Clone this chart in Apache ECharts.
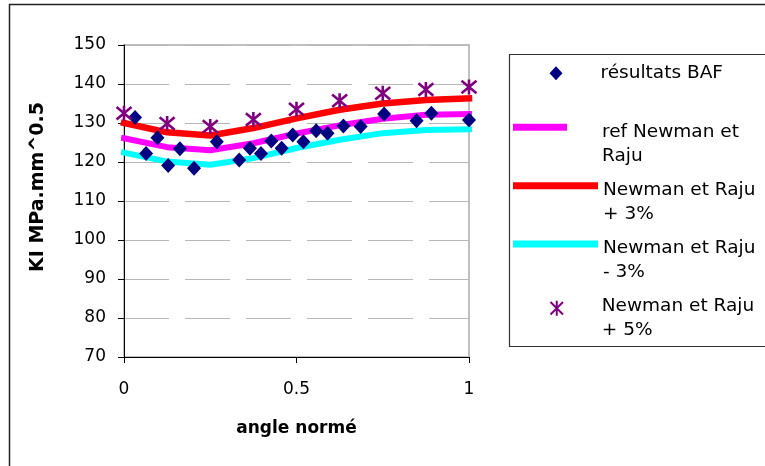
<!DOCTYPE html>
<html>
<head>
<meta charset="utf-8">
<script src="https://cdn.jsdelivr.net/npm/echarts@6/dist/echarts.min.js"></script>
<style>html,body{margin:0;padding:0;background:#fff}#c{width:765px;height:466px}</style>
</head>
<body>
<div id="c"></div>
<script>
// ---- data ----
const bafX = [0.032, 0.064, 0.097, 0.128, 0.162, 0.203, 0.269, 0.334, 0.365, 0.397, 0.427, 0.457, 0.489, 0.520, 0.557, 0.590, 0.636, 0.686, 0.754, 0.848, 0.891, 1.0];
const bafY = [131.4, 122.2, 126.2, 119.1, 123.4, 118.4, 125.2, 120.5, 123.5, 122.2, 125.4, 123.5, 126.9, 125.2, 128.0, 127.4, 129.2, 129.1, 132.3, 130.6, 132.5, 130.8];
const lineX = [0, 0.125, 0.25, 0.375, 0.5, 0.625, 0.75, 0.875, 1];
const refY = [126.1, 123.8, 123.0, 124.8, 127.3, 129.4, 131.1, 132.1, 132.3];
const plus3Y = [130.0, 127.6, 126.8, 128.7, 131.2, 133.4, 135.0, 135.9, 136.3];
const minus3Y = [122.4, 120.1, 119.3, 121.0, 123.6, 125.7, 127.4, 128.2, 128.4];
const plus5Y = [132.5, 129.9, 129.1, 130.9, 133.5, 135.7, 137.6, 138.6, 139.2];
const seriesNames = ['résultats BAF', 'ref Newman et Raju', 'Newman et Raju + 3%', 'Newman et Raju - 3%', 'Newman et Raju + 5%'];
const legendLines = [['résultats BAF'], ['ref Newman et', 'Raju'], ['Newman et Raju', '+ 3%'], ['Newman et Raju', '- 3%'], ['Newman et Raju', '+ 5%']];
const xTickValues = [0, 0.5, 1];
const yTickValues = [70, 80, 90, 100, 110, 120, 130, 140, 150];
const xTitle = 'angle normé';
const yTitle = 'KI MPa.mm^0.5';

const pair = (xs, ys) => xs.map((x, i) => [x, ys[i]]);
const FONT = 'DejaVu Sans';
const STAR = 'path://M0,0L10,10M10,0L0,10M5,-1L5,11';

const chart = echarts.init(document.getElementById('c'), null, {renderer: 'canvas'});
function lg(i, left, top, w, h, icon, padLeft, spacer) {
  const lines = legendLines[i];
  const fmt = (lines.length > 1 ? '{s| }\n' : '') + lines.map(l => '{t|' + l + '}').join('\n');
  return {
    show: true, orient: 'vertical', left: left, top: top, padding: 0,
    itemWidth: w, itemHeight: h, selectedMode: false,
    data: [{name: seriesNames[i], icon: icon}],
    formatter: fmt,
    textStyle: {
      fontFamily: FONT, fontSize: 18.5, color: '#000', padding: [0, 0, 0, padLeft],
      rich: {
        s: {fontFamily: FONT, fontSize: 10, lineHeight: spacer, height: spacer},
        t: {fontFamily: FONT, fontSize: 18.5, color: '#000', lineHeight: 24}
      }
    }
  };
}
const option = {
  backgroundColor: '#fff',
  animation: false,
  grid: {left: 124, right: 296, top: 45, bottom: 109, show: true, borderColor: '#c0c0c0', borderWidth: 2, backgroundColor: 'transparent'},
  graphic: [
    {type: 'rect', shape: {x: 9.5, y: 4.5, width: 800, height: 500}, style: {fill: 'none', stroke: '#222', lineWidth: 1.5}, z: 0, silent: true},
    {type: 'rect', shape: {x: 509.5, y: 54.5, width: 300, height: 292}, style: {fill: '#fff', stroke: '#333', lineWidth: 1.2}, z: 0, silent: true}
  ],
  legend: [
    lg(0, 549.5, 63.7, 13, 14, 'diamond', 33, 0),
    lg(1, 513, 86.8, 54, 7, 'rect', 30, 33),
    lg(2, 513, 145.2, 85, 7, 'rect', 0, 33),
    lg(3, 513, 203.5, 85, 7, 'rect', 0, 33),
    lg(4, 549.5, 274.8, 14, 15, STAR, 33, 19)
  ],
  xAxis: {
    type: 'value', min: 0, max: 1, interval: 0.5,
    name: xTitle, nameLocation: 'middle', nameGap: 63,
    nameTextStyle: {fontFamily: FONT, fontSize: 17, fontWeight: 'bold', color: '#000'},
    axisLine: {show: true, lineStyle: {color: '#000', width: 1}},
    axisTick: {show: true, inside: false, length: 6, lineStyle: {color: '#000'}},
    axisLabel: {fontFamily: FONT, fontSize: 17, color: '#000', margin: 24,
      formatter: v => (xTickValues.indexOf(v) >= 0 ? String(v) : '')},
    splitLine: {show: false}
  },
  yAxis: {
    type: 'value', min: 70, max: 150, interval: 10,
    name: yTitle, nameLocation: 'middle', nameGap: 76, nameRotate: 90,
    nameTextStyle: {fontFamily: FONT, fontSize: 19, fontWeight: 'bold', color: '#000', padding: [0, 0, 0, 28]},
    axisLine: {show: true, lineStyle: {color: '#000', width: 1}},
    axisTick: {show: true, inside: false, length: 6, lineStyle: {color: '#000'}},
    axisLabel: {fontFamily: FONT, fontSize: 17, color: '#000', margin: 18,
      formatter: v => (yTickValues.indexOf(v) >= 0 ? String(v) : '')},
    splitLine: {show: true, lineStyle: {color: '#b8b8b8', width: 1, type: [45, 16]}}
  },
  series: [
    {name: seriesNames[1], type: 'line', data: pair(lineX, refY), color: '#ff00ff', showSymbol: false, symbol: 'none', clip: false, z: 2,
      lineStyle: {width: 6, color: '#ff00ff', cap: 'square'}},
    {name: seriesNames[2], type: 'line', data: pair(lineX, plus3Y), color: '#ff0000', showSymbol: false, symbol: 'none', clip: false, z: 2,
      lineStyle: {width: 6.5, color: '#ff0000', cap: 'square'}},
    {name: seriesNames[3], type: 'line', data: pair(lineX, minus3Y), color: '#00ffff', showSymbol: false, symbol: 'none', clip: false, z: 2,
      lineStyle: {width: 6, color: '#00ffff', cap: 'square'}},
    {name: seriesNames[0], type: 'scatter', data: pair(bafX, bafY), symbol: 'diamond', symbolSize: [14, 15], z: 3,
      itemStyle: {color: '#000080', opacity: 1}},
    {name: seriesNames[4], type: 'scatter', data: pair(lineX, plus5Y), symbol: STAR, symbolSize: 15, z: 4,
      itemStyle: {color: '#800080', borderColor: '#800080', borderWidth: 2.6, opacity: 1}}
  ]
};
chart.setOption(option);
</script>
</body>
</html>
